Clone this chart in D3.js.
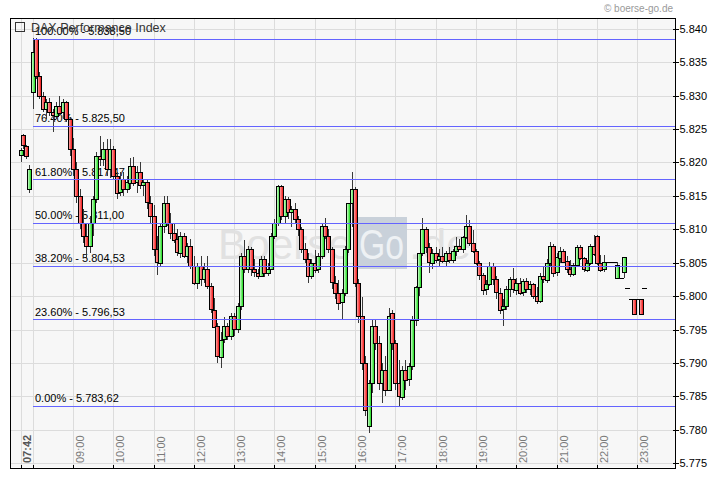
<!DOCTYPE html>
<html>
<head>
<meta charset="utf-8">
<script src="https://cdn.jsdelivr.net/npm/d3@7"></script>
<style>
  body { margin: 0; background: #fff; }
  svg { display: block; }
  text { font-family: "Liberation Sans", Arial, sans-serif; }
</style>
</head>
<body>
<svg id="chart" width="720" height="481"></svg>
<script>
// DAX intraday, 5 minute candles, with fibonacci retracement levels
const title = "DAX Performance Index";
const copyright = "\u00a9 boerse-go.de";

// pre-market candles
const preTimes = ["07:42", "07:45", "07:50", "07:55"];
const preOpen  = [5821, 5824.1, 5822.5, 5816];
const preHigh  = [5822.2, 5824.3, 5822.6, 5819.6];
const preLow   = [5820, 5822, 5820.5, 5815.5];
const preClose = [5821.8, 5822.6, 5821, 5819];

// main session, one candle every 5 minutes starting 08:00
const sessionStart = "08:00";
const opens = [
  5830.5,5838.5,5833,5830,5828,5829,5827.5,5827,5828.5,5827.5,5829,5826.5,
  5822,5819,5815,5811,5809,5807.5,5811,5814.6,5821,5820.5,5822,5819,
  5822,5818,5815.5,5817.5,5816,5817,5819.5,5817,5818.5,5816.5,5817,5814,
  5812,5807,5805,5810.5,5814,5811,5809.5,5808.5,5806.5,5809,5806,5807.5,
  5804.5,5802,5804.5,5802.5,5804,5801.5,5798,5795.5,5791,5793.5,5795.5,5794,
  5797,5795,5798.5,5806,5804,5807,5804,5803.5,5803,5805.5,5803.4,5804,
  5809,5811,5816.5,5812,5814.5,5812.5,5813,5811.5,5810,5807,5805.5,5803,
  5805,5804,5806,5810.5,5809,5807,5802,5800.5,5799,5800.4,5807,5813.9,
  5816,5802,5797,5790,5780.5,5787,5795.5,5793,5787,5789,5786,5797.5,
  5793,5787,5785,5789,5787.5,5789.5,5796.4,5801.3,5806.4,5810,5807.3,5805,
  5806.5,5805.5,5806,5805.3,5806.5,5805.5,5806.8,5807.5,5807,5808.8,5810.5,5808,
  5806.8,5805,5803.2,5801,5801.8,5804.5,5802.5,5800.5,5798,5798.5,5801,5802.5,
  5801,5802,5800.5,5802.2,5801,5801.8,5800,5799.2,5803,5802.5,5805,5807.5,
  5803.5,5805.8,5806.8,5805.2,5804,5803.3,5804.6,5807.3,5805.7,5804,5805,5807.5,
  5809,5805,5804,5805.1,5805.1,5805.1,5802.7,5802.7,5803.6,5801.2,5799.6,5799.6,
  5799.6,5799.6,5801.2
];
const highs = [
  5838.6,5838.6,5833.5,5830.5,5829.5,5829.6,5828,5829,5830,5829.5,5829.2,5826.8,
  5823.6,5820,5816,5813,5811,5812,5815,5821.5,5824,5823,5823.5,5823.5,
  5822.5,5818.5,5818.5,5818.5,5818,5820.6,5820.8,5819.5,5820,5817.5,5817.5,5815,
  5813.6,5809,5811,5815,5815,5812.5,5811,5810,5809.6,5809.5,5808,5808.6,
  5806,5805,5806,5805,5806,5802,5799.7,5796,5794.6,5796.9,5796,5797.5,
  5797.5,5799,5806.5,5808.4,5807.5,5807.3,5805.5,5804,5806,5806,5805,5809.4,
  5811.5,5816.6,5816.6,5815,5814.8,5813.5,5814,5812,5810.3,5808,5806.4,5805.5,
  5806.9,5806.5,5811,5811.7,5810,5807.3,5803,5802.4,5801,5807.5,5814,5818.6,
  5816.3,5802.5,5799.9,5791,5787.5,5796.4,5796.5,5794,5790,5791,5798.3,5798,
  5793.5,5790.4,5789.5,5790.4,5790,5797,5801.5,5806.5,5811.7,5810.3,5808,5807,
  5807.3,5807,5807.3,5806.8,5807.3,5807,5808.8,5808.5,5809,5812.1,5811.4,5809.9,
  5807,5805.3,5803.5,5802.4,5805.1,5805,5803,5801.2,5799.5,5801.5,5802.9,5804.2,
  5802.7,5802.7,5802.5,5802.7,5802.2,5802,5801.3,5803.5,5804.3,5805.5,5808.1,5807.8,
  5806.4,5807.3,5807,5806,5805.4,5805,5807.6,5807.6,5805.9,5805.4,5807.8,5809.1,
  5809.1,5806.1,5806.1,5805.1,5805.1,5805.1,5805.1,5802.7,5805.8,5801.2,5799.6,5799.6,
  5799.6,5799.6,5801.2
];
const lows = [
  5828,5832.5,5829.5,5827.5,5826.5,5827,5824.5,5826.5,5827,5826.5,5826,5821,
  5818,5814,5810,5808,5805.7,5806.5,5809,5814,5819.5,5819.5,5818,5817.7,
  5817.5,5814.6,5815,5815,5815.5,5816,5816.5,5815.5,5816,5815,5813,5811,
  5806,5803.2,5804.5,5809.5,5810.5,5808.6,5808,5806,5805.7,5805.7,5805,5804,
  5801.6,5801,5801.5,5802,5801,5797.5,5795.2,5790,5789.2,5793,5793.4,5793.5,
  5794,5794.5,5798,5803.4,5803.5,5803,5802.8,5802.5,5802.8,5802.8,5803,5803.9,
  5808.5,5810.5,5811.4,5811,5811.5,5810.3,5811,5809,5806.5,5804.9,5801.9,5802.5,
  5803.4,5803.5,5805.5,5808.5,5806.5,5801,5799.5,5797.9,5796.4,5800,5806.5,5810.3,
  5801.3,5796,5789,5782,5779.5,5785.5,5792,5786,5784,5785,5786,5792,
  5786,5783.4,5784.5,5786,5786.5,5789,5795.5,5800,5806,5806.5,5803.4,5804,
  5804.9,5804.5,5804.9,5804.5,5805,5804.9,5806,5806.9,5806.5,5808.5,5807.5,5806.4,
  5804.6,5802.4,5800.2,5800.2,5801.5,5801.6,5799.5,5797.4,5795.6,5798,5799.9,5800.4,
  5800.2,5800.2,5800,5800.5,5800.2,5799.5,5798.9,5799,5801.9,5802,5804.5,5802.9,
  5803,5804.9,5804.9,5803.5,5802.9,5803,5804.3,5805.4,5803.6,5803.6,5804.6,5806,
  5804.6,5803.6,5803.6,5805.1,5805.1,5805.1,5802.7,5802.7,5802.7,5801.2,5799.6,5797.2,
  5799.6,5797.2,5801.2
];
const closes = [
  5836.5,5833,5830,5828,5829,5827.5,5827,5828.5,5827.5,5829,5826.5,5822,
  5819,5815,5811,5809,5807.5,5811,5814.6,5821,5820.5,5822,5819,5822,
  5818,5815.5,5817.5,5816,5817,5819.5,5817,5818.5,5816.5,5817,5814,5812,
  5807,5805,5810.5,5814,5811,5809.5,5808.5,5806.5,5809,5806,5807.5,5804.5,
  5802,5804.5,5802.5,5804,5801.5,5798,5795.5,5791,5793.5,5795.5,5794,5797,
  5795,5798.5,5806,5804,5807,5804,5803.5,5803,5805.5,5803.4,5804,5809,
  5811,5816.5,5812,5814.5,5812.5,5813,5811.5,5810,5807,5805.5,5803,5805,
  5804,5806,5810.5,5809,5807,5802,5800.5,5799,5800.4,5807,5813.9,5816,
  5802,5797,5790,5783,5787,5795.5,5793,5787,5789,5786,5797,5793,
  5787,5785,5789,5787.5,5789.5,5796.4,5801.3,5806.4,5810,5807.3,5805,5806.5,
  5805.5,5806,5805.3,5806.5,5805.5,5806.8,5807.5,5807,5808.8,5810.5,5808,5806.8,
  5805,5803.2,5801,5801.8,5804.5,5802.5,5800.5,5798,5798.5,5801,5802.5,5801,
  5802,5800.5,5802.2,5801,5801.8,5800,5799.2,5803,5802.5,5805,5807.5,5803.5,
  5805.8,5806.8,5805.2,5804,5803.3,5804.6,5807.3,5805.7,5804,5805,5807.5,5806.3,
  5805,5804,5805.1,5805.1,5805.1,5805.1,5804.6,5802.7,5805.8,5801.2,5799.6,5797.3,
  5799.6,5797.3,5801.2
];

// axis ticks
const priceTicks = [5775, 5780, 5785, 5790, 5795, 5800, 5805, 5810, 5815, 5820, 5825, 5830, 5835, 5840];
const firstTime = "07:42";
const hourTicks = ["08:00","09:00","10:00","11:00","12:00","13:00","14:00","15:00",
                   "16:00","17:00","18:00","19:00","20:00","21:00","22:00","23:00"];
const hourLabels = ["","09:00","10:00","11:00","12:00","13:00","14:00","15:00",
                    "16:00","17:00","18:00","19:00","20:00","21:00","22:00","23:00"];

// fibonacci retracement
const fibPercents = [100, 76.4, 61.8, 50, 38.2, 23.6, 0];
const fibLevels = [5838.50, 5825.50, 5817.47, 5811.00, 5804.53, 5796.53, 5783.62];

const parseTime = d3.timeParse("%H:%M");
const de = d3.formatLocale({ decimal: ",", thousands: ".", grouping: [3], currency: ["", "\u20ac"] });
const fmtTick = de.format(",");
const fmtFib = de.format(",.2f");

const candles = [];
preTimes.forEach((t, i) => candles.push({ t: parseTime(t), o: preOpen[i], h: preHigh[i], l: preLow[i], c: preClose[i] }));
const t0 = parseTime(sessionStart);
opens.forEach((o, i) => candles.push({ t: d3.timeMinute.offset(t0, 5 * i), o: o, h: highs[i], l: lows[i], c: closes[i] }));

const W = 720, H = 481;
const plotL = 10, plotR = 675, plotT = 18, plotB = 467.5;

const x = d3.scaleTime()
    .domain([parseTime(firstTime), parseTime("23:00")])
    .range([20.5, 637.3]);
const y = d3.scaleLinear()
    .domain([5775, 5840])
    .range([463.3, 28.7]);

const px = v => Math.round(v) + 0.5;

const svg = d3.select("#chart");

svg.append("rect").attr("width", W).attr("height", H).attr("fill", "#fff");
svg.append("rect")
    .attr("x", plotL).attr("y", plotT)
    .attr("width", plotR - plotL).attr("height", plotB - plotT)
    .attr("fill", "#f7f7f7");

// grid
const grid = svg.append("g").attr("shape-rendering", "crispEdges").attr("stroke", "#dcdcdc");
grid.selectAll(".hg").data(priceTicks).enter().append("line")
    .attr("x1", plotL).attr("x2", plotR)
    .attr("y1", d => px(y(d))).attr("y2", d => px(y(d)));
const gridTimes = [firstTime].concat(hourTicks);
grid.selectAll(".vg").data(gridTimes).enter().append("line")
    .attr("y1", plotT).attr("y2", plotB)
    .attr("x1", d => px(x(parseTime(d)))).attr("x2", d => px(x(parseTime(d))));

// watermark
const wm = svg.append("g");
wm.append("text").attr("x", 218).attr("y", 259)
    .attr("font-size", 43).attr("fill", "#e1e1e1")
    .attr("textLength", 134).attr("lengthAdjust", "spacingAndGlyphs")
    .text("Boerse");
wm.append("rect").attr("x", 355).attr("y", 217).attr("width", 52).attr("height", 52)
    .attr("fill", "#c9d1da");
wm.append("text").attr("x", 359).attr("y", 259)
    .attr("font-size", 43).attr("fill", "#eef1f4")
    .attr("textLength", 45).attr("lengthAdjust", "spacingAndGlyphs")
    .text("Go");
wm.append("text").attr("x", 409).attr("y", 259)
    .attr("font-size", 43).attr("fill", "#e1e1e1")
    .attr("textLength", 62).attr("lengthAdjust", "spacingAndGlyphs")
    .text(".de");

// fib labels (under the candles)
svg.append("g").selectAll("text").data(fibPercents).enter().append("text")
    .attr("x", 35)
    .attr("y", (d, i) => y(fibLevels[i]) - 3.5)
    .attr("font-size", 11).attr("fill", "#000")
    .text((d, i) => d.toFixed(2) + "% - " + fmtFib(fibLevels[i]));

// title
svg.append("rect").attr("x", 15.5).attr("y", 22.5).attr("width", 9).attr("height", 9)
    .attr("fill", "none").attr("stroke", "#333").attr("shape-rendering", "crispEdges");
svg.append("text").attr("x", 31).attr("y", 31.5)
    .attr("font-size", 12.5).attr("fill", "#333")
    .text(title);

// gradients for candle bodies
const defs = svg.append("defs");
function grad(id, c1, c2) {
  const g = defs.append("linearGradient").attr("id", id).attr("x1", "0").attr("x2", "1").attr("y1", "0").attr("y2", "0");
  g.append("stop").attr("offset", "0").attr("stop-color", c1);
  g.append("stop").attr("offset", "1").attr("stop-color", c2);
}
grad("up", "#e8ffe8", "#00d800");
grad("down", "#ffb8b8", "#f00000");

// candles
const cg = svg.append("g").attr("shape-rendering", "crispEdges");
candles.forEach(d => {
  const cx = Math.round(x(d.t));
  cg.append("line")
      .attr("x1", cx + 0.5).attr("x2", cx + 0.5)
      .attr("y1", y(d.h)).attr("y2", y(d.l))
      .attr("stroke", "#3a3a3a");
  const yo = y(d.o), yc = y(d.c);
  if (Math.abs(yo - yc) < 1) {
    cg.append("line")
        .attr("x1", cx - 2).attr("x2", cx + 3)
        .attr("y1", px(yc)).attr("y2", px(yc))
        .attr("stroke", "#000");
  } else {
    cg.append("rect")
        .attr("x", cx - 1.5).attr("width", 4)
        .attr("y", Math.round(Math.min(yo, yc)) + 0.5)
        .attr("height", Math.max(1, Math.round(Math.abs(yo - yc))))
        .attr("fill", d.c > d.o ? "url(#up)" : "url(#down)")
        .attr("stroke", "#000");
  }
});

// fib lines
svg.append("g").attr("shape-rendering", "crispEdges").selectAll("line").data(fibLevels).enter().append("line")
    .attr("x1", 33).attr("x2", plotR)
    .attr("y1", d => px(y(d))).attr("y2", d => px(y(d)))
    .attr("stroke", "#6464ff");

// frame
svg.append("rect")
    .attr("x", plotL + 0.5).attr("y", plotT + 0.5)
    .attr("width", plotR - plotL).attr("height", plotB - plotT)
    .attr("fill", "none").attr("stroke", "#000")
    .attr("shape-rendering", "crispEdges");

// right price axis
const yAxis = d3.axisRight(y).tickValues(priceTicks).tickFormat(fmtTick)
    .tickSizeInner(3).tickSizeOuter(0).tickPadding(1);
const ya = svg.append("g").attr("transform", "translate(" + (plotR + 0.5) + ",0)").call(yAxis);
ya.select(".domain").remove();
ya.selectAll(".tick line").attr("x1", -3).attr("stroke", "#000").attr("shape-rendering", "crispEdges");
ya.selectAll(".tick text").attr("font-size", 11).attr("fill", "#000")
    .attr("font-family", "\"Liberation Sans\", Arial, sans-serif");

// time ticks and labels
const tg = svg.append("g").attr("shape-rendering", "crispEdges");
tg.selectAll("line").data(gridTimes).enter().append("line")
    .attr("x1", d => px(x(parseTime(d)))).attr("x2", d => px(x(parseTime(d))))
    .attr("y1", plotB - 3).attr("y2", plotB + 1)
    .attr("stroke", "#000");
svg.append("g").selectAll("text").data(hourTicks).enter().append("text")
    .attr("transform", d => "translate(" + (px(x(parseTime(d))) + 10.5) + ",463) rotate(-90)")
    .attr("font-size", 11).attr("fill", "#7a7a7a")
    .text((d, i) => hourLabels[i]);
svg.append("text")
    .attr("transform", "translate(" + (px(x(parseTime(firstTime))) + 9.5) + ",463) rotate(-90)")
    .attr("font-size", 11).attr("font-weight", "bold").attr("fill", "#555")
    .text(firstTime);

// copyright
svg.append("text").attr("x", 673).attr("y", 11.5).attr("text-anchor", "end")
    .attr("font-size", 10).attr("fill", "#9a9a9a")
    .text(copyright);
</script>
</body>
</html>
